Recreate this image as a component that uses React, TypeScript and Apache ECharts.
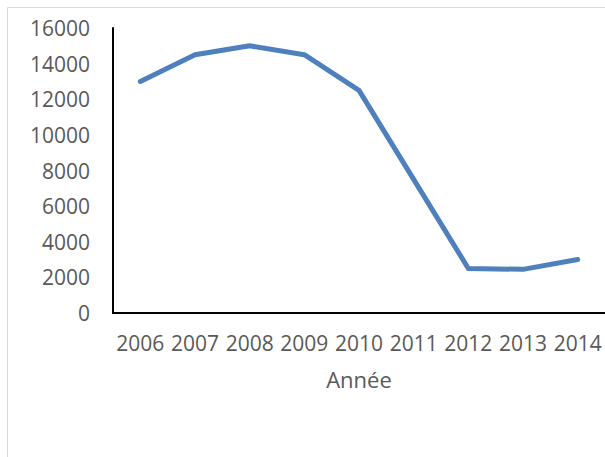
import React, { useEffect, useRef } from "react";
import * as echarts from "echarts";

const categories = ["2006", "2007", "2008", "2009", "2010", "2011", "2012", "2013", "2014"];
const values = [13000, 14500, 15000, 14500, 12500, 7500, 2500, 2450, 3000];
const yMin = 0;
const yMax = 16000;
const yInterval = 2000;
const xAxisName = "Année";

export default function App() {
  const ref = useRef<HTMLDivElement>(null);
  useEffect(() => {
    document.body.style.margin = "0";
    const chart = echarts.init(ref.current!, undefined, { renderer: "svg" });
    const font = "'Open Sans', 'Noto Sans', sans-serif";
    chart.setOption({
      animation: false,
      backgroundColor: "#ffffff",
      grid: { left: 113, right: -1, top: 28, bottom: 144, containLabel: false },
      graphic: [
        {
          type: "rect",
          shape: { x: 7.5, y: 7.5, width: 640, height: 480 },
          style: { fill: "none", stroke: "#d9d9d9", lineWidth: 1 },
          silent: true,
        },
      ],
      xAxis: {
        type: "category",
        data: categories,
        boundaryGap: true,
        name: xAxisName,
        nameLocation: "middle",
        nameGap: 55,
        nameTextStyle: { color: "#595959", fontSize: 22, fontFamily: font },
        axisLine: { lineStyle: { color: "#000000", width: 2 } },
        axisTick: { show: false },
        axisLabel: { color: "#595959", fontSize: 21, fontFamily: font, margin: 19, interval: 0 },
        splitLine: { show: false },
      },
      yAxis: {
        type: "value",
        min: yMin,
        max: yMax,
        interval: yInterval,
        axisLine: { show: true, lineStyle: { color: "#000000", width: 2 } },
        axisTick: { show: false },
        axisLabel: {
          color: "#595959",
          fontSize: 21,
          fontFamily: font,
          margin: 23,
          formatter: (v: number) => String(v),
        },
        splitLine: { show: false },
      },
      series: [
        {
          type: "line",
          data: values,
          showSymbol: false,
          symbol: "none",
          lineStyle: { color: "#4E80BD", width: 5, cap: "round", join: "round" },
          itemStyle: { color: "#4E80BD" },
        },
      ],
    });
    return () => chart.dispose();
  }, []);
  return <div ref={ref} style={{ width: 605, height: 457 }} />;
}
